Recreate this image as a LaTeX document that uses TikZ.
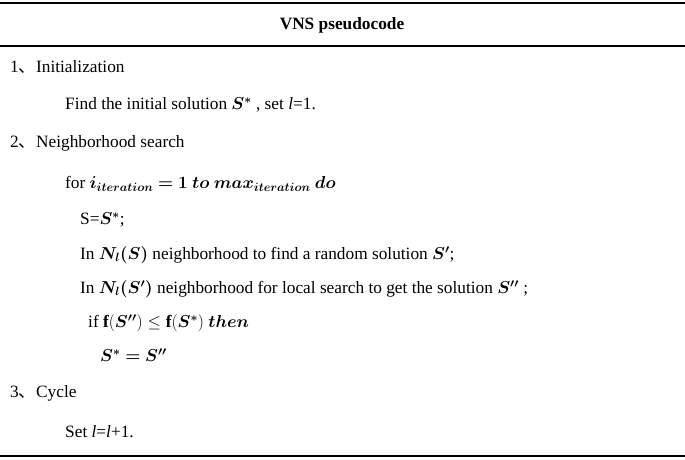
\documentclass[tikz,border=0pt]{standalone}
\usepackage{amsmath,amssymb,bm}
\usepackage{fontspec}
\setmainfont{Liberation Serif}
\newfontfamily\cjk{Noto Sans CJK SC}
\newcommand{\dn}{{\cjk 、}}
\begin{document}
\begin{tikzpicture}[x=1pt,y=-1pt,font=\fontsize{17.3}{20}\selectfont,
  txt/.style={anchor=west,inner sep=0pt}]
\useasboundingbox (0,0) rectangle (685,460);
\draw[line width=1.1pt] (0,3) coordinate (t1) -- (685,3) coordinate (t2);
\draw[line width=1.3pt] (0,46) coordinate (h1) -- (685,46) coordinate (h2);
\draw[line width=1.1pt] (0,456) coordinate (b1) -- (685,456) coordinate (b2);
\node[inner sep=0pt] (hd) at (342,25) {\textbf{VNS pseudocode}};
\node[txt] (a1) at (10,67) {1\dn Initialization};
\node[txt] (a2) at (65,105) {Find the initial solution $\bm{S^{*}}$ , set \textit{l}=1.};
\node[txt] (a3) at (10,143) {2\dn Neighborhood search};
\node[txt] (a4) at (65,184) {for $\bm{i_{iteration}=1\ to\ max_{iteration}\ do}$};
\node[txt] (a5) at (80,220) {S=$\bm{S^{*}}$;};
\node[txt] (a6) at (80,255) {In $\bm{N_l(S)}$ neighborhood to find a random solution $\bm{S'}$;};
\node[txt] (a7) at (80,289) {In $\bm{N_l(S')}$ neighborhood for local search to get the solution $\bm{S''}$ ;};
\node[txt] (a8) at (88,323) {if $\mathbf{f}(\bm{S''})\le \mathbf{f}(\bm{S^{*}})\ \bm{then}$};
\node[txt] (a9) at (100,355) {$\bm{S^{*}=S''}$};
\node[txt] (a10) at (10,393) {3\dn Cycle};
\node[txt] (a11) at (65,432) {Set \textit{l}=\textit{l}+1.};
\end{tikzpicture}
\end{document}
